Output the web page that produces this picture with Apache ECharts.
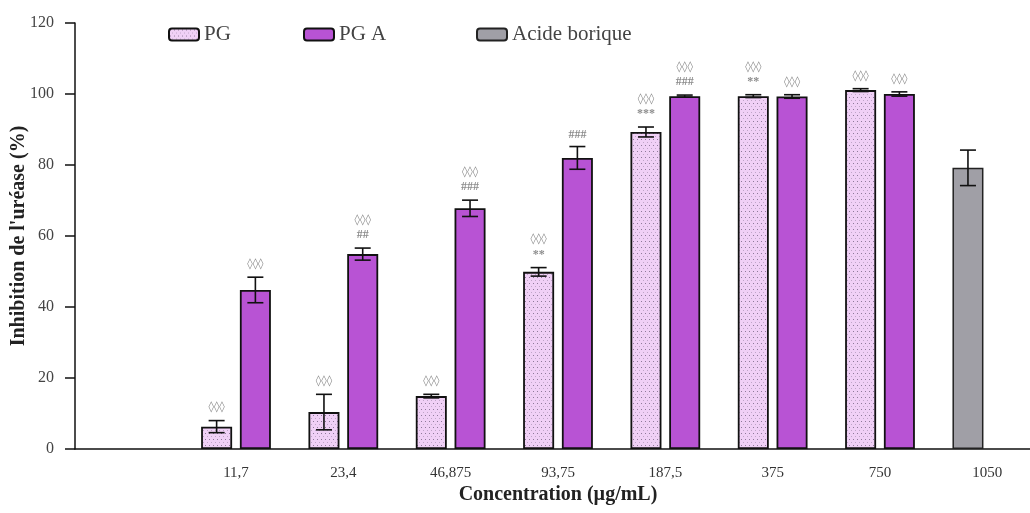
<!DOCTYPE html>
<html>
<head>
<meta charset="utf-8">
<script src="https://cdn.jsdelivr.net/npm/echarts@6/dist/echarts.min.js"></script>
<style>
  html, body { margin: 0; padding: 0; background: #fff; }
  #chart { width: 1030px; height: 513px; }
</style>
</head>
<body>
<div id="chart"></div>
<script>
// Urease inhibition by concentration (mean ± SD)
const categories = ['', '11,7', '23,4', '46,875', '93,75', '187,5', '375', '750', '1050'];
const yTicks = [0, 20, 40, 60, 80, 100, 120];

const pgValues   = [null, 6.3, 10.4, 14.9, 49.9, 89.3, 99.4, 101.1, null];
const pgErrors   = [null, 1.7, 5.0, 0.5, 1.2, 1.4, 0.4, 0.4, null];
const pgaValues  = [null, 44.8, 54.9, 67.8, 82.0, 99.4, 99.3, 100.0, null];
const pgaErrors  = [null, 3.6, 1.7, 2.3, 3.2, 0.3, 0.5, 0.6, null];
const boricValues = [null, null, null, null, null, null, null, null, 79.2];
const boricErrors = [null, null, null, null, null, null, null, null, 5.0];

// significance marks: first line (upper) and second line (just above the error bar)
const pgMarkTop   = ['', '◊◊◊', '◊◊◊', '◊◊◊', '◊◊◊', '◊◊◊', '◊◊◊', '◊◊◊', ''];
const pgMarkLow   = ['', '', '', '', '**', '***', '**', '', ''];
const pgaMarkTop  = ['', '◊◊◊', '◊◊◊', '◊◊◊', '', '◊◊◊', '◊◊◊', '◊◊◊', ''];
const pgaMarkLow  = ['', '', '##', '###', '###', '###', '', '', ''];
const boricMarkTop = ['', '', '', '', '', '', '', '', ''];
const boricMarkLow = ['', '', '', '', '', '', '', '', ''];

const BAR_W = 31;
const BAR_GAP = 0.25;
const SLOT_OFFSET = BAR_W * (1 + BAR_GAP) / 2;

// dotted fill for the PG bars
function dotPattern() {
  const c = document.createElement('canvas');
  c.width = 8; c.height = 6;
  const g = c.getContext('2d');
  g.fillStyle = '#f0d0f6';
  g.fillRect(0, 0, 8, 6);
  g.fillStyle = '#8f7a9a';
  g.fillRect(1, 1, 1, 1);
  g.fillRect(5, 1, 1, 1);
  g.fillStyle = '#bfa6c8';
  g.fillRect(3, 4, 1, 1);
  g.fillRect(7, 4, 1, 1);
  return { image: c, repeat: 'repeat' };
}

function errorItems(values, errors) {
  const out = [];
  values.forEach((v, i) => { if (v != null) out.push([i, v, errors[i]]); });
  return out;
}

function errorSeries(name, values, errors, markTop, markLow, side) {
  return {
    type: 'custom',
    name: name + ' err',
    z: 10,
    silent: true,
    data: errorItems(values, errors),
    renderItem: function (params, api) {
      const idx = api.value(0);
      const v = api.value(1);
      const e = api.value(2);
      const base = api.coord([idx, v]);
      const x = base[0] + side * SLOT_OFFSET;
      const yTop = api.coord([idx, v + e])[1];
      const yBot = api.coord([idx, v - e])[1];
      const cap = 8;
      const line = { stroke: '#111', lineWidth: 1.6 };
      const children = [
        { type: 'line', shape: { x1: x, y1: yTop, x2: x, y2: yBot }, style: line },
        { type: 'line', shape: { x1: x - cap, y1: yTop, x2: x + cap, y2: yTop }, style: line },
        { type: 'line', shape: { x1: x - cap, y1: yBot, x2: x + cap, y2: yBot }, style: line }
      ];
      const top = markTop[idx], low = markLow[idx];
      const markStyle = (txt, y, isLozenge) => ({
        type: 'text',
        style: {
          text: txt, x: x, y: y, align: 'center', verticalAlign: 'middle',
          fill: '#8c8c8c',
          font: isLozenge ? '11px "DejaVu Sans"' : 'bold 12px "Liberation Serif"'
        }
      });
      if (top && low) {
        children.push(markStyle(low, yTop - 13, false));
        children.push(markStyle(top, yTop - 28, true));
      } else if (top) {
        children.push(markStyle(top, yTop - 13, true));
      } else if (low) {
        children.push(markStyle(low, yTop - 12, false));
      }
      return { type: 'group', children: children };
    }
  };
}

const serif = 'Liberation Serif';
const legendBase = {
  top: 19, itemWidth: 30, itemHeight: 12, itemGap: 10,
  textStyle: { fontFamily: serif, fontSize: 21, color: '#444' }
};

const chart = echarts.init(document.getElementById('chart'));
chart.setOption({
  animation: false,
  backgroundColor: '#fff',
  legend: [
    Object.assign({ left: 163, data: ['PG'] }, legendBase),
    Object.assign({ left: 298, data: ['PG A'] }, legendBase),
    Object.assign({ left: 471, data: ['Acide borique'] }, legendBase)
  ],
  grid: { left: 75, top: 23, width: 966, bottom: 64, containLabel: false, outerBoundsMode: 'none' },
  xAxis: {
    type: 'category',
    data: categories,
    name: 'Concentration (µg/mL)',
    nameLocation: 'middle',
    nameGap: 36,
    nameMoveOverlap: false,
    nameTextStyle: { fontFamily: serif, fontSize: 20, fontWeight: 'bold', color: '#222' },
    axisLine: { lineStyle: { color: '#111', width: 1.5 } },
    axisTick: { alignWithLabel: true, length: 12, lineStyle: { color: '#111', width: 1.5 } },
    axisLabel: { margin: 17, fontFamily: serif, fontSize: 15, color: '#333' }
  },
  yAxis: {
    type: 'value',
    min: yTicks[0],
    max: yTicks[yTicks.length - 1],
    interval: yTicks[1] - yTicks[0],
    name: "Inhibition de l'uréase (%)",
    nameLocation: 'middle',
    nameGap: 46,
    nameMoveOverlap: false,
    nameTextStyle: { fontFamily: serif, fontSize: 20, fontWeight: 'bold', color: '#222' },
    axisLine: { show: true, lineStyle: { color: '#111', width: 1.5 } },
    axisTick: { show: true, length: 10, lineStyle: { color: '#111', width: 1.5 } },
    axisLabel: { margin: 21, fontFamily: serif, fontSize: 16, color: '#444' },
    splitLine: { show: false }
  },
  series: [
    {
      name: 'PG', type: 'bar', stack: 'left', data: pgValues,
      barWidth: BAR_W, barGap: (BAR_GAP * 100) + '%',
      itemStyle: { color: dotPattern(), borderColor: '#111', borderWidth: 1.8 }
    },
    {
      name: 'PG A', type: 'bar', data: pgaValues,
      barWidth: BAR_W, barGap: (BAR_GAP * 100) + '%',
      itemStyle: { color: '#b853d4', borderColor: '#111', borderWidth: 1.8 }
    },
    {
      name: 'Acide borique', type: 'bar', stack: 'left', data: boricValues,
      barWidth: BAR_W, barGap: (BAR_GAP * 100) + '%',
      itemStyle: { color: '#a09fa6', borderColor: '#222', borderWidth: 1.5 }
    },
    errorSeries('PG', pgValues, pgErrors, pgMarkTop, pgMarkLow, -1),
    errorSeries('PG A', pgaValues, pgaErrors, pgaMarkTop, pgaMarkLow, 1),
    errorSeries('Acide borique', boricValues, boricErrors, boricMarkTop, boricMarkLow, -1)
  ]
});
</script>
</body>
</html>
